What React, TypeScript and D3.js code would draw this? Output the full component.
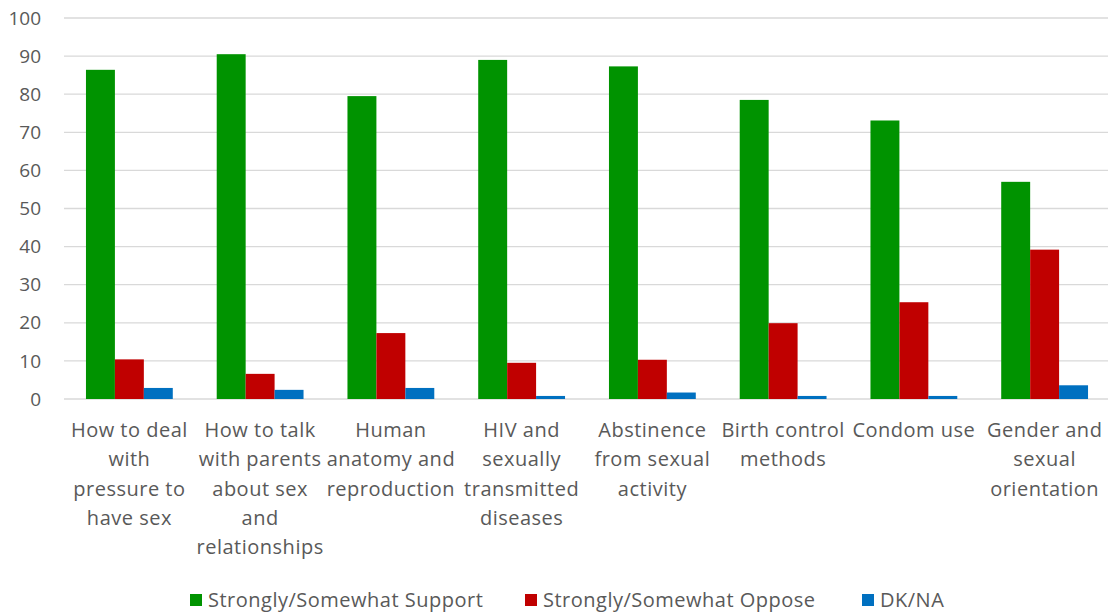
import React from "react";
import * as d3 from "d3";

const categories: string[][] = [
  ["How to deal", "with", "pressure to", "have sex"],
  ["How to talk", "with parents", "about sex", "and", "relationships"],
  ["Human", "anatomy and", "reproduction"],
  ["HIV and", "sexually", "transmitted", "diseases"],
  ["Abstinence", "from sexual", "activity"],
  ["Birth control", "methods"],
  ["Condom use"],
  ["Gender and", "sexual", "orientation"],
];
const support = [86.4, 90.5, 79.5, 89.0, 87.3, 78.5, 73.1, 57.0];
const oppose = [10.4, 6.6, 17.3, 9.5, 10.3, 19.9, 25.4, 39.2];
const dkna = [2.9, 2.4, 2.9, 0.8, 1.7, 0.8, 0.8, 3.6];
const seriesNames = ["Strongly/Somewhat Support", "Strongly/Somewhat Oppose", "DK/NA"];
const seriesColors = ["#009300", "#C00000", "#0070C0"];
const yTicks = [0, 10, 20, 30, 40, 50, 60, 70, 80, 90, 100];

export default function App() {
  const W = 1108, H = 613;
  const font = "'Open Sans', Lato, sans-serif";
  const fs = 20;
  const ls = 0.5;
  const x = d3.scaleBand<number>().domain(d3.range(categories.length)).range([64, 1110]).paddingInner(0.336).paddingOuter(0.168);
  const sub = d3.scaleBand<number>().domain([0, 1, 2]).range([0, x.bandwidth()]);
  const y = d3.scaleLinear().domain([0, 100]).range([399, 18]);
  const series = [support, oppose, dkna];
  const legendX = [190, 525, 862];
  return (
    <svg width={W} height={H} style={{ position: "absolute", left: 0, top: 0, background: "#fff" }} fontFamily={font}>
      {yTicks.map((t) => (
        <g key={t}>
          <line x1={64} x2={W} y1={y(t)} y2={y(t)} stroke="#D9D9D9" strokeWidth={1.3} />
          <text x={41} y={y(t)} dy="0.35em" textAnchor="end" fontSize={19} fill="#595959">{t}</text>
        </g>
      ))}
      {series.map((vals, s) =>
        vals.map((v, i) => (
          <rect key={`${s}-${i}`} x={(x(i) as number) + (sub(s) as number)} y={y(v)} width={sub.bandwidth()} height={y(0) - y(v)} fill={seriesColors[s]} />
        ))
      )}
      {categories.map((lines, i) => (
        <text key={i} textAnchor="middle" fontSize={fs} letterSpacing={ls} fill="#595959">
          {lines.map((l, j) => (
            <tspan key={j} x={(x(i) as number) + x.bandwidth() / 2} y={437 + j * 29.3}>{l}</tspan>
          ))}
        </text>
      ))}
      {seriesNames.map((n, s) => (
        <g key={n}>
          <rect x={legendX[s]} y={594} width={12} height={12} fill={seriesColors[s]} />
          <text x={legendX[s] + 18} y={600} dy="0.35em" fontSize={fs} letterSpacing={ls} fill="#595959">{n}</text>
        </g>
      ))}
    </svg>
  );
}
